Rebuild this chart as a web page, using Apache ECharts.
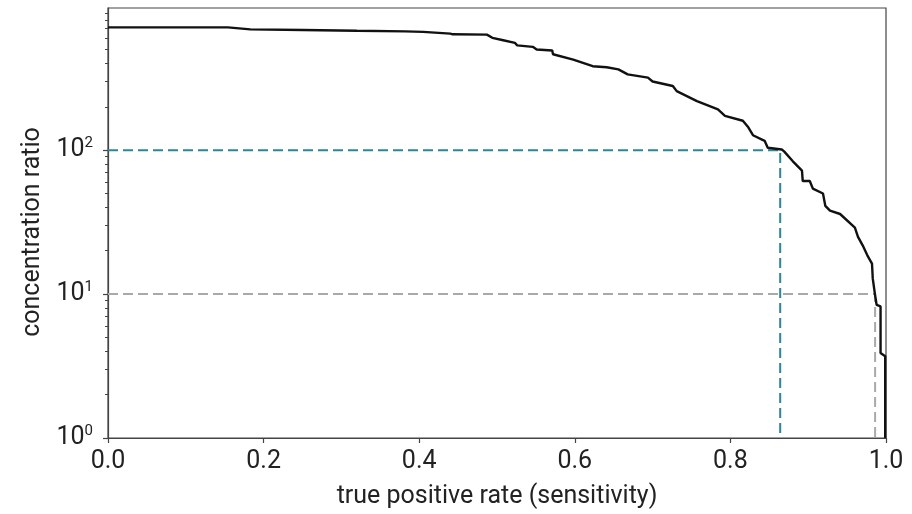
<!DOCTYPE html>
<html>
<head>
<meta charset="utf-8">
<script src="https://cdn.jsdelivr.net/npm/echarts@6/dist/echarts.min.js"></script>
<style>
  html, body { margin: 0; padding: 0; background: #fff; }
  #chart { width: 912px; height: 514px; }
</style>
</head>
<body>
<div id="chart"></div>
<script>
var myChart = echarts.init(document.getElementById('chart'));

// curve: sensitivity vs concentration ratio
var tprValues = [0, 0.154, 0.155, 0.183, 0.25, 0.32, 0.382, 0.405, 0.407, 0.440, 0.443, 0.487,
    0.494, 0.508, 0.523, 0.526, 0.546, 0.551, 0.571, 0.572, 0.598, 0.623, 0.641, 0.656,
    0.668, 0.694, 0.700, 0.726, 0.731, 0.757, 0.784, 0.793, 0.816, 0.823, 0.829, 0.844,
    0.848, 0.866, 0.869, 0.880, 0.892, 0.893, 0.902, 0.906, 0.919, 0.922, 0.928, 0.941,
    0.960, 0.964, 0.970, 0.976, 0.982, 0.983, 0.986, 0.988, 0.993, 0.993, 0.999, 0.999];
var ratioValues = [713, 713, 695, 690, 684, 675, 669, 663, 648, 645, 638, 635,
    603, 580, 556, 535, 522, 500, 492, 464, 426, 383, 377, 364,
    336, 319, 300, 279, 257, 219, 192, 173, 160, 144, 127, 116,
    104, 101, 98, 84, 72, 61, 61, 54, 50, 41, 38, 36,
    29, 25, 21.8, 18.6, 16.3, 12.8, 9.8, 8.4, 8.2, 3.9, 3.7, 1];

// threshold guides
var cutoffRatios = [100, 10];
var cutoffTpr = [0.864, 0.986];

var xTicks = [0, 0.2, 0.4, 0.6, 0.8, 1.0];
var yMajorTicks = [1, 10, 100];
var yMinorTicks = [2, 3, 4, 5, 6, 7, 8, 9, 20, 30, 40, 50, 60, 70, 80, 90,
    200, 300, 400, 500, 600, 700, 800, 900];

var curve = tprValues.map(function (x, i) {
    return [x, ratioValues[i]];
});

function guide(i) {
    return [[0, cutoffRatios[i]], [cutoffTpr[i], cutoffRatios[i]], [cutoffTpr[i], 1]];
}

var axisColor = '#444';
var font = 'Roboto';

myChart.setOption({
    backgroundColor: '#fff',
    animation: false,
    grid: {
        left: 108,
        right: 26,
        top: 8,
        bottom: 74,
        show: true,
        borderColor: axisColor,
        borderWidth: 1.2
    },
    xAxis: {
        type: 'value',
        min: 0,
        max: 1,
        interval: 0.2,
        name: 'true positive rate (sensitivity)',
        nameLocation: 'middle',
        nameGap: 46,
        nameTextStyle: { fontFamily: font, fontSize: 25, color: '#222' },
        splitLine: { show: false },
        axisLine: { onZero: false, lineStyle: { color: axisColor, width: 1.2 } },
        axisTick: {
            length: 5,
            customValues: xTicks,
            lineStyle: { color: axisColor, width: 1.2 }
        },
        axisLabel: {
            customValues: xTicks,
            fontFamily: font,
            fontSize: 25,
            color: '#222',
            margin: 11,
            formatter: function (v) { return v.toFixed(1); }
        }
    },
    yAxis: [{
        type: 'log',
        logBase: 10,
        min: 1,
        max: 972,
        name: 'concentration ratio',
        nameLocation: 'middle',
        nameGap: 62,
        nameTextStyle: { fontFamily: font, fontSize: 25, color: '#222', padding: [0, 18, 0, 0] },
        splitLine: { show: false },
        axisLine: { onZero: false, lineStyle: { color: axisColor, width: 1.2 } },
        axisTick: {
            length: 5,
            customValues: yMajorTicks,
            lineStyle: { color: axisColor, width: 1.2 }
        },
        axisLabel: {
            customValues: yMajorTicks,
            margin: 15,
            formatter: function (v) {
                return '{b|10}{s|' + Math.round(Math.log10(v)) + '}';
            },
            rich: {
                b: { fontFamily: font, fontSize: 25, color: '#222', lineHeight: 28 },
                s: { fontFamily: font, fontSize: 15, color: '#222', verticalAlign: 'top', lineHeight: 14 }
            }
        }
    }, {
        type: 'log',
        logBase: 10,
        min: 1,
        max: 972,
        position: 'left',
        splitLine: { show: false },
        axisLine: { show: false },
        axisTick: {
            length: 3,
            customValues: yMinorTicks,
            lineStyle: { color: axisColor, width: 1 }
        },
        axisLabel: { show: false }
    }],
    series: [{
        type: 'line',
        data: guide(1),
        symbol: 'none',
        silent: true,
        lineStyle: { color: '#a9a9a9', width: 2, type: [10, 5] }
    }, {
        type: 'line',
        data: guide(0),
        symbol: 'none',
        silent: true,
        lineStyle: { color: '#2b8799', width: 2, type: [10, 5] }
    }, {
        type: 'line',
        data: curve,
        symbol: 'none',
        lineStyle: { color: '#111', width: 2.4 }
    }]
});
</script>
</body>
</html>
